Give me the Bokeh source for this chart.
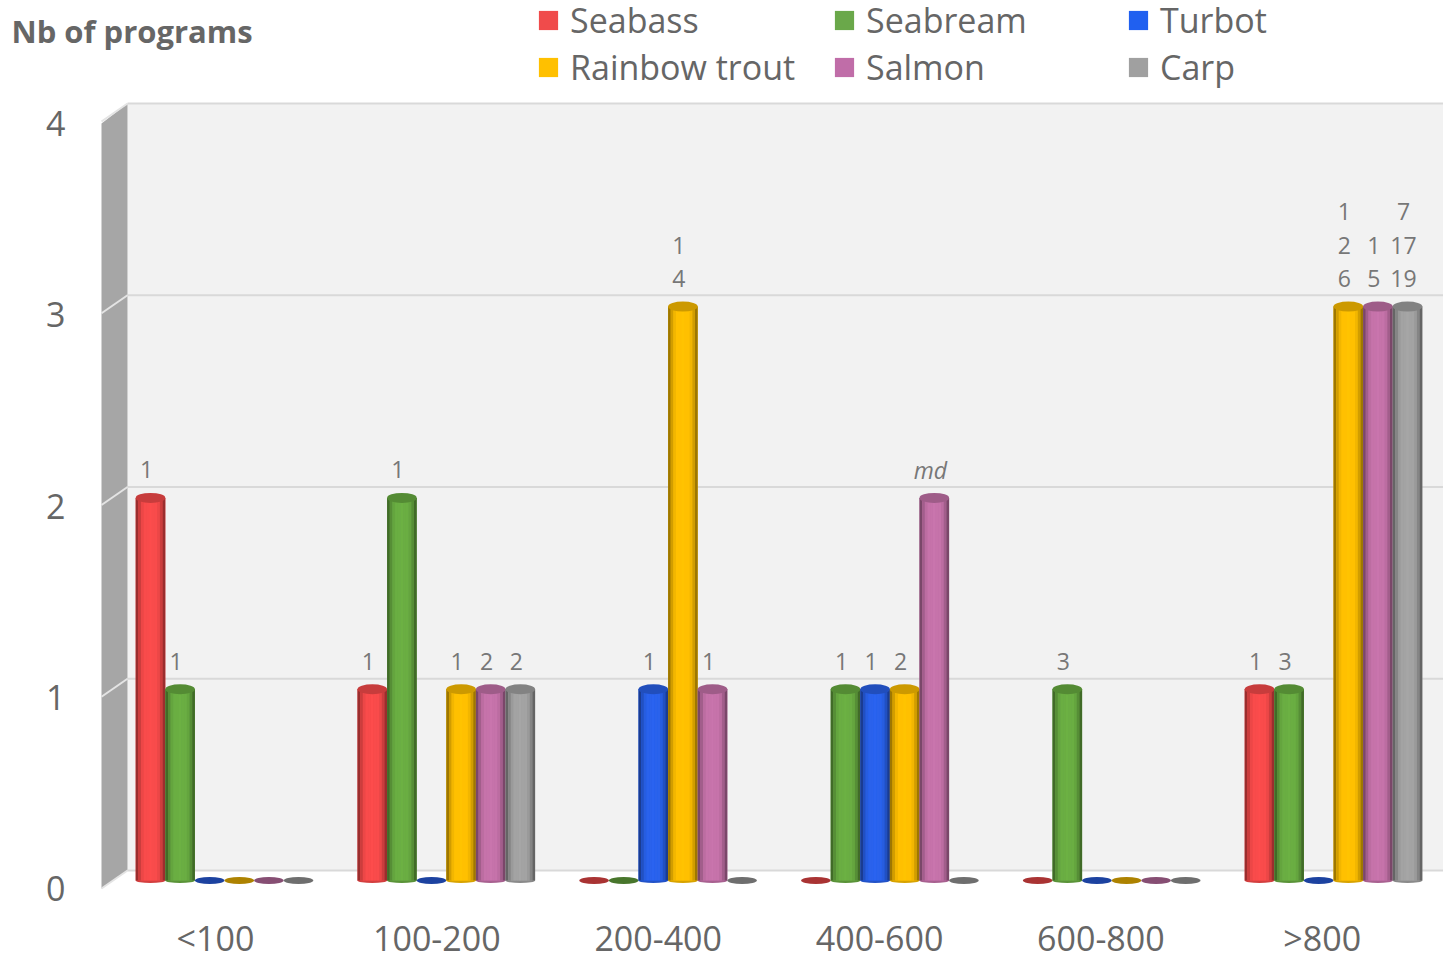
from bokeh.core.properties import value
from bokeh.embed import file_html
from bokeh.models import ColumnDataSource, FixedTicker, Label, Legend, LegendItem, LinearAxis, Range1d
from bokeh.plotting import figure
from bokeh.resources import INLINE

# Chart data
categories = ["<100", "100-200", "200-400", "400-600", "600-800", ">800"]
y_ticks = [0, 1, 2, 3, 4]
series_names = ["Seabass", "Seabream", "Turbot", "Rainbow trout", "Salmon", "Carp"]
seabass = [2, 1, 0, 0, 0, 1]
seabream = [1, 2, 0, 1, 1, 1]
turbot = [0, 0, 1, 1, 0, 0]
rainbow_trout = [0, 1, 3, 1, 0, 3]
salmon = [0, 1, 1, 2, 0, 3]
carp = [0, 1, 0, 0, 0, 3]

# Stacked annotation above each bar, listed top row first
seabass_notes = [["1"], ["1"], [], [], [], ["1"]]
seabream_notes = [["1"], ["1"], [], ["1"], ["3"], ["3"]]
turbot_notes = [[], [], ["1"], ["1"], [], []]
rainbow_trout_notes = [[], ["1"], ["1", "4"], ["2"], [], ["1", "2", "6"]]
salmon_notes = [[], ["2"], ["1"], ["md"], [], ["1", "5"]]
carp_notes = [[], ["2"], [], [], [], ["7", "17", "19"]]

series_values = [seabass, seabream, turbot, rainbow_trout, salmon, carp]
series_notes = [seabass_notes, seabream_notes, turbot_notes,
                rainbow_trout_notes, salmon_notes, carp_notes]
series_colors = ["#f94b4b", "#6aae42", "#2a62ec", "#ffc000", "#c673aa", "#a3a3a3"]
legend_colors = ["#f04b4b", "#6aa84a", "#2060f0", "#ffc000", "#c06da8", "#a0a0a0"]

# Canvas geometry (pixels)
WIDTH, HEIGHT = 1443, 953
X0, X_STEP = 224.0, 221.8     # first group centre and group spacing
Y0, Y_STEP = 880.0, 191.3     # bar base and height of one unit
BAR_STEP = 29.6
TEXT = "#666666"
FONT = "Open Sans"


def fx(px):
    return (px - X0) / X_STEP


def fy(py):
    return (Y0 - py) / Y_STEP


def shade(color, factor):
    r, g, b = (min(255, int(int(color[k:k + 2], 16) * factor)) for k in (1, 3, 5))
    return "#%02x%02x%02x" % (r, g, b)


p = figure(
    width=WIDTH, height=HEIGHT, output_backend="svg", toolbar_location=None,
    x_range=Range1d(fx(0), fx(WIDTH)), y_range=Range1d(fy(HEIGHT), fy(0)),
    min_border=0, x_axis_location=None, y_axis_location=None,
    background_fill_color="white", border_fill_color="white", outline_line_color=None,
)
p.grid.visible = False

# Axes sit slightly in front of the bar plane, so they get their own ranges
p.extra_y_ranges["value_axis"] = Range1d((888 - HEIGHT) / 191.25, 888 / 191.25)
p.extra_x_ranges["category_axis"] = Range1d(-215 / 221.35, (WIDTH - 215) / 221.35)

y_axis = LinearAxis(y_range_name="value_axis", ticker=FixedTicker(ticks=y_ticks), fixed_location=fx(76))
x_axis = LinearAxis(x_range_name="category_axis", ticker=FixedTicker(ticks=list(range(len(categories)))),
                    major_label_overrides={i: c for i, c in enumerate(categories)}, fixed_location=fy(902))
for axis in (x_axis, y_axis):
    axis.axis_line_color = None
    axis.major_tick_line_color = None
    axis.minor_tick_line_color = None
    axis.major_label_text_color = TEXT
    axis.major_label_text_font = FONT
    axis.major_label_text_font_size = "34px"
y_axis.major_label_standoff = 5
x_axis.major_label_standoff = 6
p.add_layout(y_axis, "left")
p.add_layout(x_axis, "below")

# Back wall, side wall and floor of the 3D box
back_left, back_right, back_top, back_bottom = 127, WIDTH, 103, 870
side_left = 101
p.patch([fx(back_left), fx(back_right), fx(back_right), fx(back_left)],
        [fy(back_top), fy(back_top), fy(back_bottom), fy(back_bottom)],
        fill_color="#f2f2f2", line_color=None)
p.patch([fx(side_left), fx(back_left), fx(back_left), fx(side_left)],
        [fy(123), fy(back_top), fy(back_bottom), fy(888)],
        fill_color="#a6a6a6", line_color=None)
for v in y_ticks:
    wall_y = back_bottom - 191.75 * v
    p.line([fx(back_left), fx(back_right)], [fy(wall_y), fy(wall_y)],
           line_color="#d9d9d9", line_width=2)
    p.line([fx(side_left), fx(back_left)], [fy(wall_y + 18), fy(wall_y)],
           line_color="#e4e4e4", line_width=2)

# Cylinders, drawn series by series from left to right
bar_width = BAR_STEP / X_STEP
strip_factors = [0.62, 0.82, 0.95, 1.0, 1.0, 1.02, 1.0, 1.0, 0.95, 0.82, 0.62]
strip_count = len(strip_factors)
cap_height = 10 / Y_STEP
foot_height = 5 / Y_STEP
disc_height = 7 / Y_STEP
legend_items = []

for j, (values, base, flat) in enumerate(zip(series_values, series_colors, legend_colors)):
    xs = [i + (j - 2.5) * BAR_STEP / X_STEP for i in range(len(values))]
    raised_x = [x for x, v in zip(xs, values) if v > 0]
    raised_top = [v for v in values if v > 0]
    flat_x = [x for x, v in zip(xs, values) if v == 0]

    p.ellipse(flat_x, [0.0] * len(flat_x), width=bar_width, height=disc_height,
              fill_color=shade(base, 0.68), line_color=None)
    p.ellipse(raised_x, [0.0] * len(raised_x), width=bar_width, height=foot_height,
              fill_color=shade(base, 0.85), line_color=None)
    body = p.vbar(raised_x, width=bar_width, bottom=0, top=raised_top,
                  fill_color=flat, line_color=None)
    legend_items.append(LegendItem(label=value(series_names[j]), renderers=[body]))

    # Horizontal shading across the cylinder
    for s, factor in enumerate(strip_factors):
        t = (s + 0.5) / strip_count * 2 - 1
        strip_x = [x + t * bar_width / 2 for x in raised_x]
        p.vbar(strip_x, width=bar_width / strip_count, bottom=0, top=raised_top,
               fill_color=shade(base, factor), line_color=None)

    p.ellipse(raised_x, raised_top, width=bar_width, height=cap_height,
              fill_color=shade(base, 0.8), line_color=None)

# Stacked annotations
note_x, note_y, note_text, note_dy, note_style = [], [], [], [], []
for j, (values, notes) in enumerate(zip(series_values, series_notes)):
    for i, stack in enumerate(notes):
        for row, text in enumerate(reversed(stack)):
            note_x.append(i + (j - 2.5) * BAR_STEP / X_STEP)
            note_y.append(values[i])
            note_text.append(text)
            note_dy.append(-28 - 33.5 * row)
            note_style.append("italic" if text == "md" else "normal")
p.text(x="x", y="y", text="text", y_offset="dy", x_offset=-4, text_font_style="style",
       source=ColumnDataSource(dict(x=note_x, y=note_y, text=note_text, dy=note_dy, style=note_style)),
       text_font=value(FONT), text_font_size="23px", text_color="#777777",
       text_align="center", text_baseline="middle")

# Axis heading
p.add_layout(Label(x=fx(11), y=fy(30), text="Nb of programs", text_font=FONT, text_font_size="31px",
                   text_font_style="bold", text_color=TEXT, text_baseline="middle"))

# One legend per column keeps the entries on a regular grid
for col, left in enumerate((536, 832, 1126)):
    legend = Legend(items=[legend_items[col], legend_items[col + 3]],
                    location=(left, HEIGHT - 90), orientation="vertical",
                    background_fill_alpha=0, border_line_color=None,
                    label_text_font=FONT, label_text_font_size="34px", label_text_color=TEXT,
                    glyph_width=24, glyph_height=24, label_standoff=10, spacing=1,
                    margin=0, padding=0)
    p.add_layout(legend, "center")

open("out.html", "w").write(file_html(p, INLINE))
